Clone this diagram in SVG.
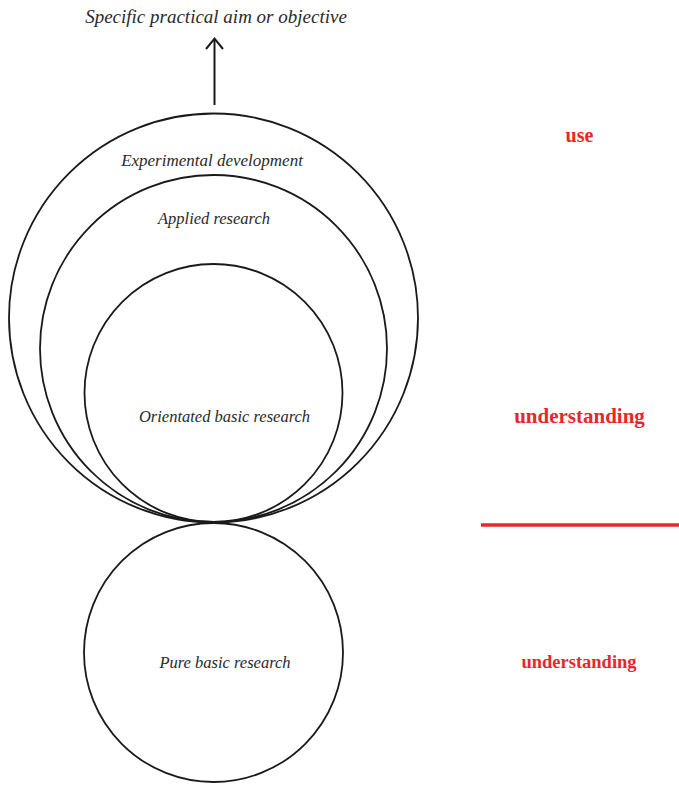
<svg xmlns="http://www.w3.org/2000/svg" width="679" height="785" viewBox="0 0 679 785">
  <style>
    .ring { fill: none; stroke: #1a1a1a; stroke-width: 1.8; }
    .label { font-family: 'Liberation Serif', 'Times New Roman', serif; font-style: italic; fill: #2a2a2a; text-anchor: middle; }
    .tag { font-family: 'Liberation Serif', 'Times New Roman', serif; font-weight: bold; fill: #e8262b; text-anchor: middle; }
  </style>
  <rect width="679" height="785" fill="#ffffff"/>

  <g id="aim">
    <text class="label" x="216" y="23" font-size="19">Specific practical aim or objective</text>
  </g>

  <g id="connectors">
    <line x1="214.5" y1="105" x2="214.5" y2="39" stroke="#1a1a1a" stroke-width="2"/>
    <polyline points="206,49 214.5,38.5 223,49" fill="none" stroke="#1a1a1a" stroke-width="2"/>
  </g>

  <g id="experimental-development">
    <circle class="ring" cx="213.5" cy="318" r="204.5"/>
    <text class="label" x="212" y="166" font-size="17">Experimental development</text>
  </g>

  <g id="applied-research">
    <circle class="ring" cx="213.5" cy="348.5" r="173.5"/>
    <text class="label" x="214" y="224" font-size="16.5">Applied research</text>
  </g>

  <g id="orientated-basic-research">
    <circle class="ring" cx="213.5" cy="393" r="129"/>
    <text class="label" x="224.5" y="422" font-size="16.5">Orientated basic research</text>
  </g>

  <g id="pure-basic-research">
    <circle class="ring" cx="213.5" cy="652.5" r="129.5"/>
    <text class="label" x="225" y="668" font-size="16.5">Pure basic research</text>
  </g>

  <g id="scale">
    <text class="tag" x="579.5" y="142" font-size="20">use</text>
    <text class="tag" x="579.5" y="423" font-size="21">understanding</text>
    <line x1="481" y1="525" x2="679" y2="525" stroke="#e8262b" stroke-width="3.5"/>
    <text class="tag" x="579" y="668" font-size="18.5">understanding</text>
  </g>
</svg>
